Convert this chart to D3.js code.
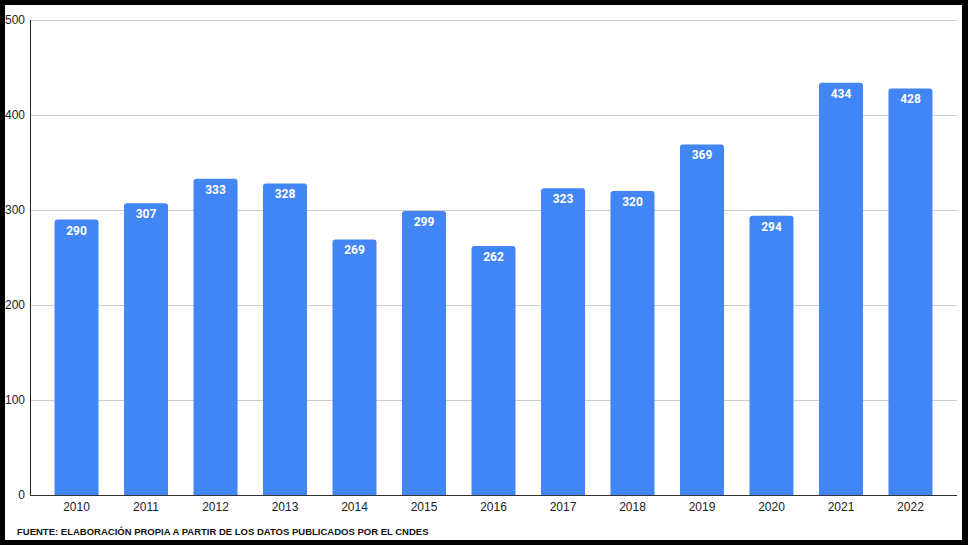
<!DOCTYPE html>
<html><head><meta charset="utf-8">
<script src="https://cdn.jsdelivr.net/npm/d3@7"></script>
<style>html,body{margin:0;padding:0;background:#000;}svg{display:block;}</style>
</head><body>
<script>
const years = ["2010","2011","2012","2013","2014","2015","2016","2017","2018","2019","2020","2021","2022"];
const values = [290,307,333,328,269,299,262,323,320,369,294,434,428];
const yTicks = [0,100,200,300,400,500];
const source = "FUENTE: ELABORACIÓN PROPIA A PARTIR DE LOS DATOS PUBLICADOS POR EL CNDES";

const W = 968, H = 545;
const svg = d3.select("body").append("svg").attr("width", W).attr("height", H);
svg.append("rect").attr("width", W).attr("height", H).attr("fill", "#000");
svg.append("rect").attr("x", 5).attr("y", 5).attr("width", 957).attr("height", 535).attr("fill", "#fff");

const x0 = 30, x1 = 957, yTop = 20, yBot = 495;
const x = d3.scaleBand().domain(years).range([x0, x1]).paddingInner(0.367).paddingOuter(0.353);
const y = d3.scaleLinear().domain([0, 500]).range([yBot, yTop]);

// gridlines
svg.append("g").selectAll("line").data(yTicks.filter(d => d > 0)).join("line")
  .attr("x1", x0).attr("x2", x1).attr("y1", d => y(d) + 0.5).attr("y2", d => y(d) + 0.5)
  .attr("stroke", "#cccccc").attr("stroke-width", 1);

// y labels
svg.append("g").selectAll("text").data(yTicks).join("text")
  .attr("x", 25).attr("y", d => y(d) + 4)
  .attr("text-anchor", "end").attr("font-family", "Arial, 'Liberation Sans', sans-serif")
  .attr("font-size", 12).attr("fill", "#222").text(d => d);

// bars
const r = 3;
svg.append("g").selectAll("path").data(values).join("path")
  .attr("fill", "#4285f4")
  .attr("d", (d, i) => {
    const bx = x(years[i]), bw = x.bandwidth(), by = y(d), bb = y(0);
    return `M${bx},${bb}V${by + r}Q${bx},${by} ${bx + r},${by}H${bx + bw - r}Q${bx + bw},${by} ${bx + bw},${by + r}V${bb}Z`;
  });

// value labels
svg.append("g").selectAll("text").data(values).join("text")
  .attr("x", (d, i) => x(years[i]) + x.bandwidth() / 2)
  .attr("y", d => y(d) + 15)
  .attr("text-anchor", "middle").attr("font-family", "Roboto, Arial, sans-serif")
  .attr("font-weight", "bold").attr("font-size", 12).attr("fill", "#fff").text(d => d);

// axes lines
svg.append("line").attr("x1", x0 + 0.5).attr("x2", x0 + 0.5).attr("y1", yTop).attr("y2", yBot)
  .attr("stroke", "#222").attr("stroke-width", 1);
svg.append("line").attr("x1", x0).attr("x2", x1).attr("y1", yBot + 0.5).attr("y2", yBot + 0.5)
  .attr("stroke", "#333").attr("stroke-width", 1);

// x labels
svg.append("g").selectAll("text").data(years).join("text")
  .attr("x", d => x(d) + x.bandwidth() / 2).attr("y", 511)
  .attr("text-anchor", "middle").attr("font-family", "Arial, 'Liberation Sans', sans-serif")
  .attr("font-size", 12).attr("fill", "#222").text(d => d);

// source
svg.append("text").attr("x", 17).attr("y", 535)
  .attr("font-family", "Arial, 'Liberation Sans', sans-serif").attr("font-weight", "bold")
  .attr("font-size", 9.5).attr("fill", "#111").text(source);
</script>
</body></html>
